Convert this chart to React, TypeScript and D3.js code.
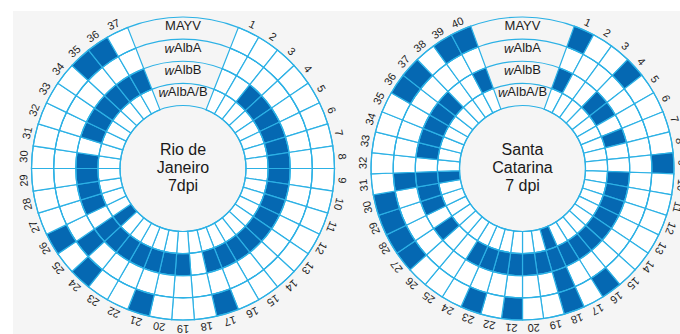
import React from "react";
import * as d3 from "d3";

// Rings from the centre outwards
const rings = ["wAlbA/B", "wAlbB", "wAlbA", "MAYV"];

// Rio de Janeiro, 7 dpi: 37 mosquitoes, positive sample numbers per assay
const rioCount = 37;
const rioMAYV = [17, 21, 24, 26, 35, 36];
const rioWAlbA = [25];
const rioWAlbB = [
  3, 4, 5, 6, 7, 8, 9, 10, 11, 12, 13, 14, 15, 16, 17, 19, 20, 21, 22, 23, 24,
  25, 27, 28, 29, 30, 32, 33, 34, 35, 36, 37,
];
const rioWAlbAB = [25];
const rioTitle = ["Rio de", "Janeiro", "7dpi"];

// Santa Catarina, 7 dpi: 40 mosquitoes
const scCount = 40;
const scMAYV = [1, 4, 9, 16, 18, 21, 23, 27, 28, 29, 30, 36, 37, 39, 40];
const scWAlbA = [18, 31];
const scWAlbB = [
  1, 4, 5, 7, 10, 11, 12, 13, 14, 15, 16, 17, 18, 19, 20, 21, 22, 23, 24, 27,
  29, 30, 31, 33, 34, 35, 36, 37, 40,
];
const scWAlbAB = [18, 31];
const scTitle = ["Santa", "Catarina", "7 dpi"];

const W = 680;
const H = 334;
const GAP = 5; // empty slots at the top that hold the ring names
const INNER = 63;
const OUTER = 151.5;
const FILL = "#0568b2";
const LINE = "#2cb1e5";
const FONT = "Arial, 'Liberation Sans', sans-serif";

type Hits = Record<string, number[]>;

function Wheel({
  cx,
  cy,
  count,
  hits,
  title,
}: {
  cx: number;
  cy: number;
  count: number;
  hits: Hits;
  title: string[];
}) {
  const total = count + GAP;
  const angle = d3.scaleLinear().domain([0, total]).range([0, 2 * Math.PI]);
  const radius = d3.scaleBand<string>().domain(rings).range([INNER, OUTER]);
  const bw = radius.bandwidth();
  const arc = d3.arc<any>();
  const samples = d3.range(1, count + 1);
  const start = (i: number) => angle(GAP / 2 + i - 1);
  const deg = (a: number) => (a * 180) / Math.PI;
  const boundaries = rings.map((r) => radius(r) as number).concat([OUTER]);

  return (
    <g transform={`translate(${cx},${cy})`}>
      {rings.map((r) =>
        samples.map((s) => {
          const on = hits[r].includes(s);
          const d = arc({
            innerRadius: radius(r) as number,
            outerRadius: (radius(r) as number) + bw,
            startAngle: start(s),
            endAngle: start(s + 1),
          }) as string;
          return (
            <path
              key={r + s}
              d={d}
              fill={on ? FILL : "#ffffff"}
              stroke={LINE}
              strokeWidth={1.2}
            />
          );
        })
      )}
      {boundaries.map((b, i) => (
        <circle key={i} r={b} fill="none" stroke={LINE} strokeWidth={1.2} />
      ))}
      {samples.map((s) => {
        const mid = deg((start(s) + start(s + 1)) / 2);
        return (
          <text
            key={"n" + s}
            transform={`rotate(${mid}) translate(0,${-(OUTER + 8.5)})`}
            textAnchor="middle"
            dominantBaseline="central"
            fontSize={11}
            fontFamily={FONT}
            fill="#1e1e1e"
          >
            {s}
          </text>
        );
      })}
      {rings.map((r) => {
        const y = -((radius(r) as number) + bw / 2 + 2.5);
        const italic = r.startsWith("w");
        return (
          <text
            key={"l" + r}
            x={0}
            y={y}
            textAnchor="middle"
            dominantBaseline="central"
            fontSize={13}
            fontFamily={FONT}
            fill="#1e1e1e"
          >
            {italic ? (
              <>
                <tspan fontStyle="italic">w</tspan>
                {r.slice(1)}
              </>
            ) : (
              r
            )}
          </text>
        );
      })}
      {title.map((t, i) => (
        <text
          key={"t" + i}
          x={0}
          y={-13.5 + i * 18}
          textAnchor="middle"
          fontSize={16}
          fontFamily={FONT}
          fill="#1a1a1a"
        >
          {t}
        </text>
      ))}
    </g>
  );
}

export default function App() {
  const rio: Hits = {
    MAYV: rioMAYV,
    wAlbA: rioWAlbA,
    wAlbB: rioWAlbB,
    "wAlbA/B": rioWAlbAB,
  };
  const sc: Hits = {
    MAYV: scMAYV,
    wAlbA: scWAlbA,
    wAlbB: scWAlbB,
    "wAlbA/B": scWAlbAB,
  };
  return (
    <svg
      width={W}
      height={H}
      style={{ position: "absolute", left: 0, top: 0, background: "#ffffff" }}
    >
      <rect x={13} y={11} width={W - 13} height={H - 11} fill="#f5f5f5" />
      <Wheel cx={183} cy={168.5} count={rioCount} hits={rio} title={rioTitle} />
      <Wheel cx={522.5} cy={168.5} count={scCount} hits={sc} title={scTitle} />
    </svg>
  );
}
